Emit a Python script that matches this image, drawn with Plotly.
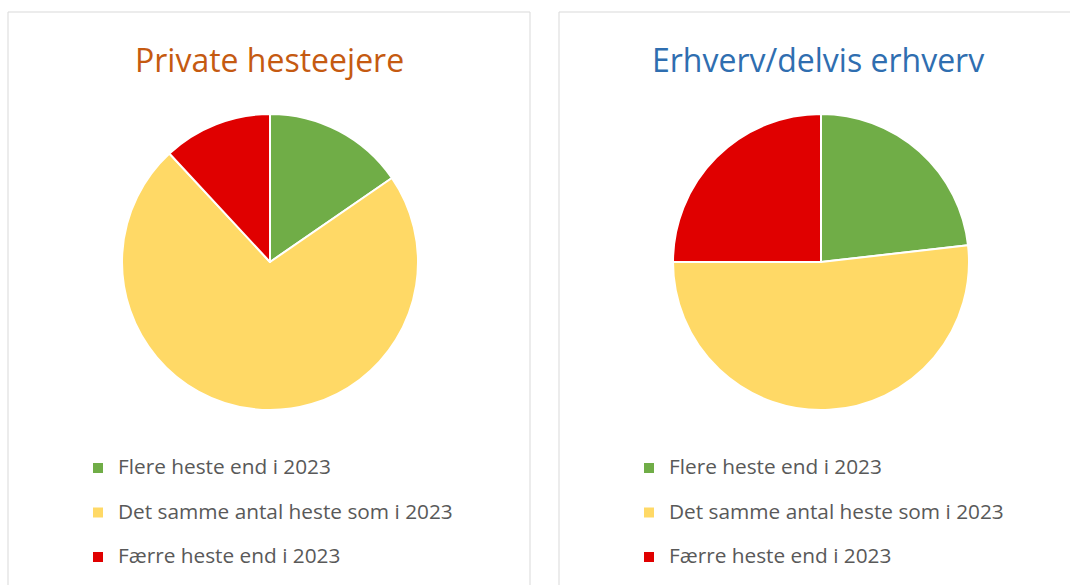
import plotly.graph_objects as go

categories = ["Flere heste end i 2023", "Det samme antal heste som i 2023", "Færre heste end i 2023"]
private_values = [15.4, 72.7, 11.9]
erhverv_values = [23.2, 51.8, 25.0]
titles = ["Private hesteejere", "Erhverv/delvis erhverv"]

colors = ["#70AD47", "#FFD966", "#E00000"]
title_colors = ["#C55A11", "#2F6EB0"]

W, H = 1070, 585
def px(x): return x / W
def py(y): return 1 - y / H

# legend text: larger visible font inside a span; blank second line sets the row spacing
legend_labels_1 = ["<span style='font-size:20.8px'>%s</span><br> " % c for c in categories]
legend_labels_2 = ["<span style='font-size:20.8px'>%s</span><br>&nbsp;" % c for c in categories]

fig = go.Figure()
fig.add_trace(go.Pie(
    labels=legend_labels_1, values=private_values, sort=False, direction="clockwise", rotation=0,
    marker=dict(colors=colors, line=dict(color="white", width=2)),
    textinfo="none", hoverinfo="percent",
    domain=dict(x=[px(122), px(418)], y=[py(410), py(114)]),
    legend="legend",
))
fig.add_trace(go.Pie(
    labels=legend_labels_2, values=erhverv_values, sort=False, direction="clockwise", rotation=0,
    marker=dict(colors=colors, line=dict(color="white", width=2)),
    textinfo="none", hoverinfo="percent",
    domain=dict(x=[px(673), px(969)], y=[py(410), py(114)]),
    legend="legend2",
))

legend_common = dict(font=dict(family="Open Sans", size=16, color="#595959"),
                     bgcolor="rgba(0,0,0,0)", valign="top", orientation="v",
                     xanchor="left", yanchor="top")
fig.update_layout(
    width=W, height=H,
    margin=dict(l=0, r=0, t=0, b=0, autoexpand=False),
    paper_bgcolor="white", plot_bgcolor="white",
    legend=dict(x=px(78), y=py(451), **legend_common),
    legend2=dict(x=px(629), y=py(451), **legend_common),
    shapes=[
        dict(type="rect", xref="paper", yref="paper", x0=px(8), x1=px(530), y0=py(600), y1=py(12),
             line=dict(color="#D9D9D9", width=1), fillcolor="rgba(0,0,0,0)"),
        dict(type="rect", xref="paper", yref="paper", x0=px(559), x1=px(1080), y0=py(600), y1=py(12),
             line=dict(color="#D9D9D9", width=1), fillcolor="rgba(0,0,0,0)"),
    ],
    annotations=[
        dict(text=titles[0], x=px(270), y=py(60), xref="paper", yref="paper", showarrow=False,
             xanchor="center", yanchor="middle", font=dict(family="Open Sans", size=32, color=title_colors[0])),
        dict(text=titles[1], x=px(818), y=py(60), xref="paper", yref="paper", showarrow=False,
             xanchor="center", yanchor="middle", font=dict(family="Open Sans", size=32, color=title_colors[1])),
    ],
)
fig.write_html("out.html", config={"displayModeBar": False},
               post_script="document.body.style.margin='0';document.body.style.overflow='hidden';")
